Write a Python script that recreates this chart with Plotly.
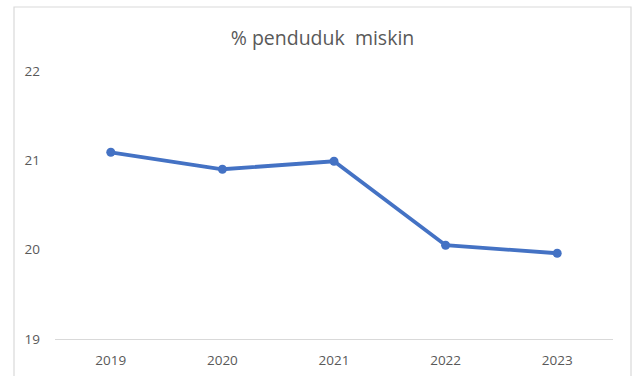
import plotly.graph_objects as go

# Share of population living in poverty, by year
years = ["2019", "2020", "2021", "2022", "2023"]
poverty_pct = [21.09, 20.90, 20.99, 20.05, 19.96]
y_ticks = [19, 20, 21, 22]

W, H = 634, 376
L, R, T, B = 55, 21, 71, 37
plot_w = W - L - R
plot_h = H - T - B

fig = go.Figure(
    go.Scatter(
        x=years,
        y=poverty_pct,
        mode="lines+markers",
        line=dict(color="#4472C4", width=3.8),
        marker=dict(color="#4472C4", size=9),
        hoverinfo="x+y",
    )
)

# Outer chart frame (light gray border around the whole chart area)
fx0 = (14 - L) / plot_w
fx1 = (631 - L) / plot_w
fy1 = (H - B - 7) / plot_h
fy0 = (H - B - 390) / plot_h
fig.add_shape(
    type="rect", xref="paper", yref="paper",
    x0=fx0, x1=fx1, y0=fy0, y1=fy1,
    line=dict(color="#D9D9D9", width=1.2),
    fillcolor="rgba(0,0,0,0)", layer="below",
)

fig.update_layout(
    width=W, height=H,
    margin=dict(l=L, r=R, t=T, b=B),
    paper_bgcolor="white",
    plot_bgcolor="white",
    showlegend=False,
    font=dict(family="Open Sans", color="#595959"),
    title=dict(
        text="% penduduk  miskin",
        x=322.5 / W, xref="container", xanchor="center",
        y=1 - 38 / H, yref="container", yanchor="middle",
        font=dict(family="Open Sans", size=19.5, color="#595959"),
    ),
    xaxis=dict(
        type="category",
        range=[-0.5, len(years) - 0.5],
        showgrid=False,
        showline=True, linecolor="#D9D9D9", linewidth=1.2,
        ticks="",
        tickfont=dict(size=13.5, color="#595959"),
        ticklabelstandoff=9,
        automargin=False,
        zeroline=False,
        fixedrange=True,
    ),
    yaxis=dict(
        range=[19, 22],
        tickvals=y_ticks,
        ticktext=[str(v) for v in y_ticks],
        showgrid=False,
        showline=False,
        zeroline=False,
        ticks="",
        tickfont=dict(size=13.5, color="#595959"),
        ticklabelstandoff=14,
        automargin=False,
        fixedrange=True,
    ),
)

fig.write_html("out.html")
